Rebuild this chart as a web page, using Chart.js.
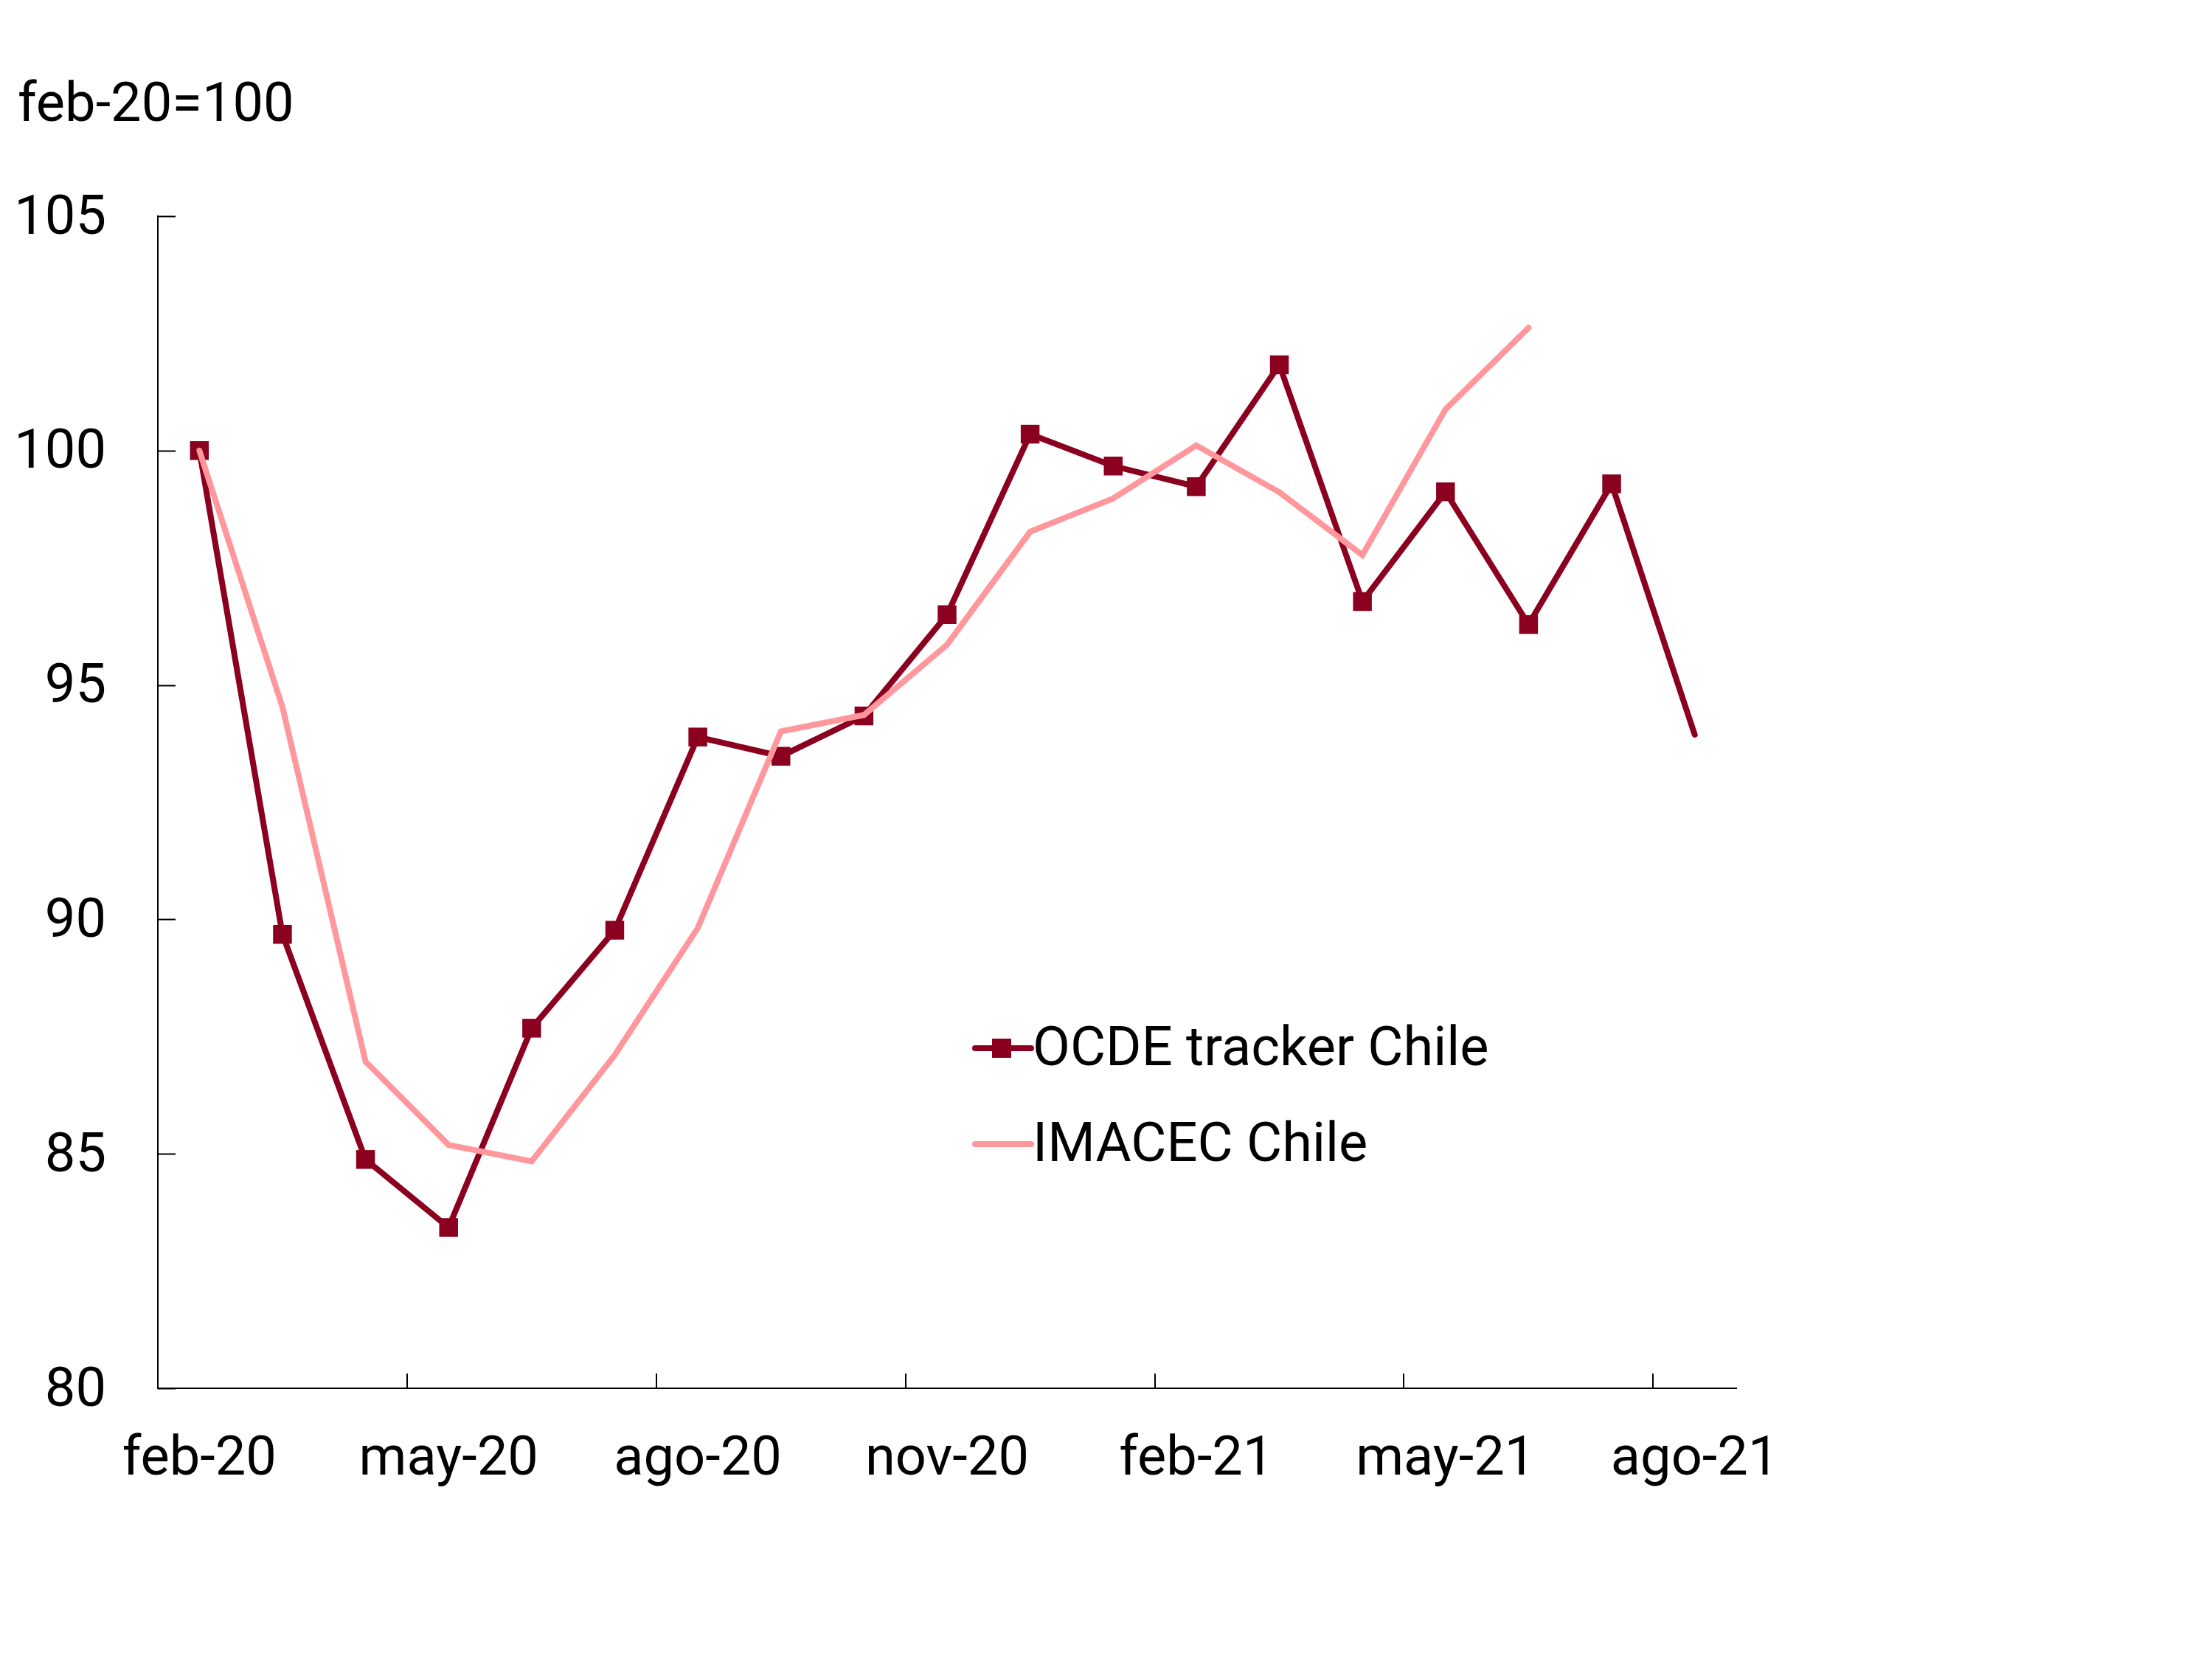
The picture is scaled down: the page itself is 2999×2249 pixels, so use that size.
<!DOCTYPE html>
<html>
<head>
<meta charset="utf-8">
<script src="https://cdn.jsdelivr.net/npm/chart.js@4.4.1/dist/chart.umd.min.js"></script>
<style>
  body { margin: 0; background: #fff; }
  canvas { display: block; }
</style>
</head>
<body>
<canvas id="myChart" width="2999" height="2249"></canvas>
<script>
const months = [
  "feb-20", "mar-20", "abr-20", "may-20", "jun-20", "jul-20", "ago-20",
  "sep-20", "oct-20", "nov-20", "dic-20", "ene-21", "feb-21", "mar-21",
  "abr-21", "may-21", "jun-21", "jul-21", "ago-21",
];
const ocdeTracker = [
  100, 89.68, 84.88, 83.43, 87.68, 89.77, 93.89, 93.48, 94.34, 96.5,
  100.35, 99.67, 99.23, 101.83, 96.78, 99.12, 96.29, 99.29, 93.94,
];
const imacec = [
  100, 94.53, 86.97, 85.19, 84.84, 87.11, 89.82, 94.01, 94.36, 95.86,
  98.27, 98.98, 100.11, 99.11, 97.77, 100.88, 102.62, null, null,
];
const yTicks = [80, 85, 90, 95, 100, 105];
const seriesNames = ["OCDE tracker Chile", "IMACEC Chile"];
const unitLabel = "feb-20=100";

const darkRed = "#8B001E";
const pink = "#FF979D";

Chart.defaults.font.family = "Roboto";
Chart.defaults.font.size = 74;
Chart.defaults.color = "#000";

// last tracker point has no marker in the original
const ocdeRadius = ocdeTracker.map((v, i) => (i === ocdeTracker.length - 1 ? 0 : 18));

// inward tick marks on both axes
const innerTicks = {
  id: "innerTicks",
  afterDraw(chart) {
    const c = chart.ctx;
    const x = chart.scales.x;
    const y = chart.scales.y;
    const area = chart.chartArea;
    c.save();
    c.strokeStyle = "#000";
    c.lineWidth = 2;
    c.beginPath();
    yTicks.forEach((v) => {
      const py = Math.round(y.getPixelForValue(v)) + 0.5;
      c.moveTo(area.left, py);
      c.lineTo(area.left + 24, py);
    });
    for (let i = 3; i < months.length; i += 3) {
      const px = Math.round((x.getPixelForValue(i - 1) + x.getPixelForValue(i)) / 2);
      c.moveTo(px, area.bottom);
      c.lineTo(px, area.bottom - 20);
    }
    c.stroke();
    c.restore();
  },
};

// unit label and legend placed inside the plot
const extraText = {
  id: "extraText",
  afterDraw(chart) {
    const c = chart.ctx;
    c.save();
    c.fillStyle = "#000";
    c.font = "74px Roboto";
    c.textBaseline = "alphabetic";
    c.textAlign = "left";
    c.fillText(unitLabel, 24, 164);

    const rows = [1421, 1551];
    const colors = [darkRed, pink];
    rows.forEach((ry, i) => {
      c.strokeStyle = colors[i];
      c.lineWidth = 8;
      c.lineCap = "round";
      c.beginPath();
      c.moveTo(1322, ry);
      c.lineTo(1398, ry);
      c.stroke();
      if (i === 0) {
        c.fillStyle = colors[i];
        c.fillRect(1345, ry - 13, 26, 26);
      }
      c.fillStyle = "#000";
      c.fillText(seriesNames[i], 1400, ry + 23);
    });
    c.restore();
  },
};

new Chart(document.getElementById("myChart"), {
  type: "line",
  data: {
    labels: months,
    datasets: [
      {
        label: seriesNames[1],
        data: imacec,
        borderColor: pink,
        backgroundColor: pink,
        borderWidth: 8,
        borderCapStyle: "round",
        pointRadius: 0,
        spanGaps: false,
      },
      {
        label: seriesNames[0],
        data: ocdeTracker,
        borderColor: darkRed,
        backgroundColor: darkRed,
        borderWidth: 8,
        borderCapStyle: "round",
        pointStyle: "rect",
        pointRadius: ocdeRadius,
        pointBorderWidth: 0,
        pointBackgroundColor: darkRed,
      },
    ],
  },
  options: {
    responsive: false,
    animation: false,
    layout: {
      padding: { top: 293, right: 645, left: 0, bottom: 0 },
    },
    plugins: {
      legend: { display: false },
      tooltip: { enabled: false },
    },
    scales: {
      x: {
        offset: true,
        grid: { display: false, drawTicks: false },
        border: { display: true, color: "#000", width: 2 },
        ticks: {
          autoSkip: false,
          maxRotation: 0,
          padding: 54,
          callback: (value, index) => (index % 3 === 0 ? months[index] : ""),
        },
        afterFit: (scale) => {
          scale.height = 367;
        },
      },
      y: {
        min: 80,
        max: 105,
        grid: { display: false, drawTicks: false },
        border: { display: true, color: "#000", width: 2 },
        ticks: {
          stepSize: 5,
          padding: 70,
          labelOffset: 5,
        },
        afterFit: (scale) => {
          scale.width = 214;
        },
      },
    },
  },
  plugins: [innerTicks, extraText],
});
</script>
</body>
</html>
